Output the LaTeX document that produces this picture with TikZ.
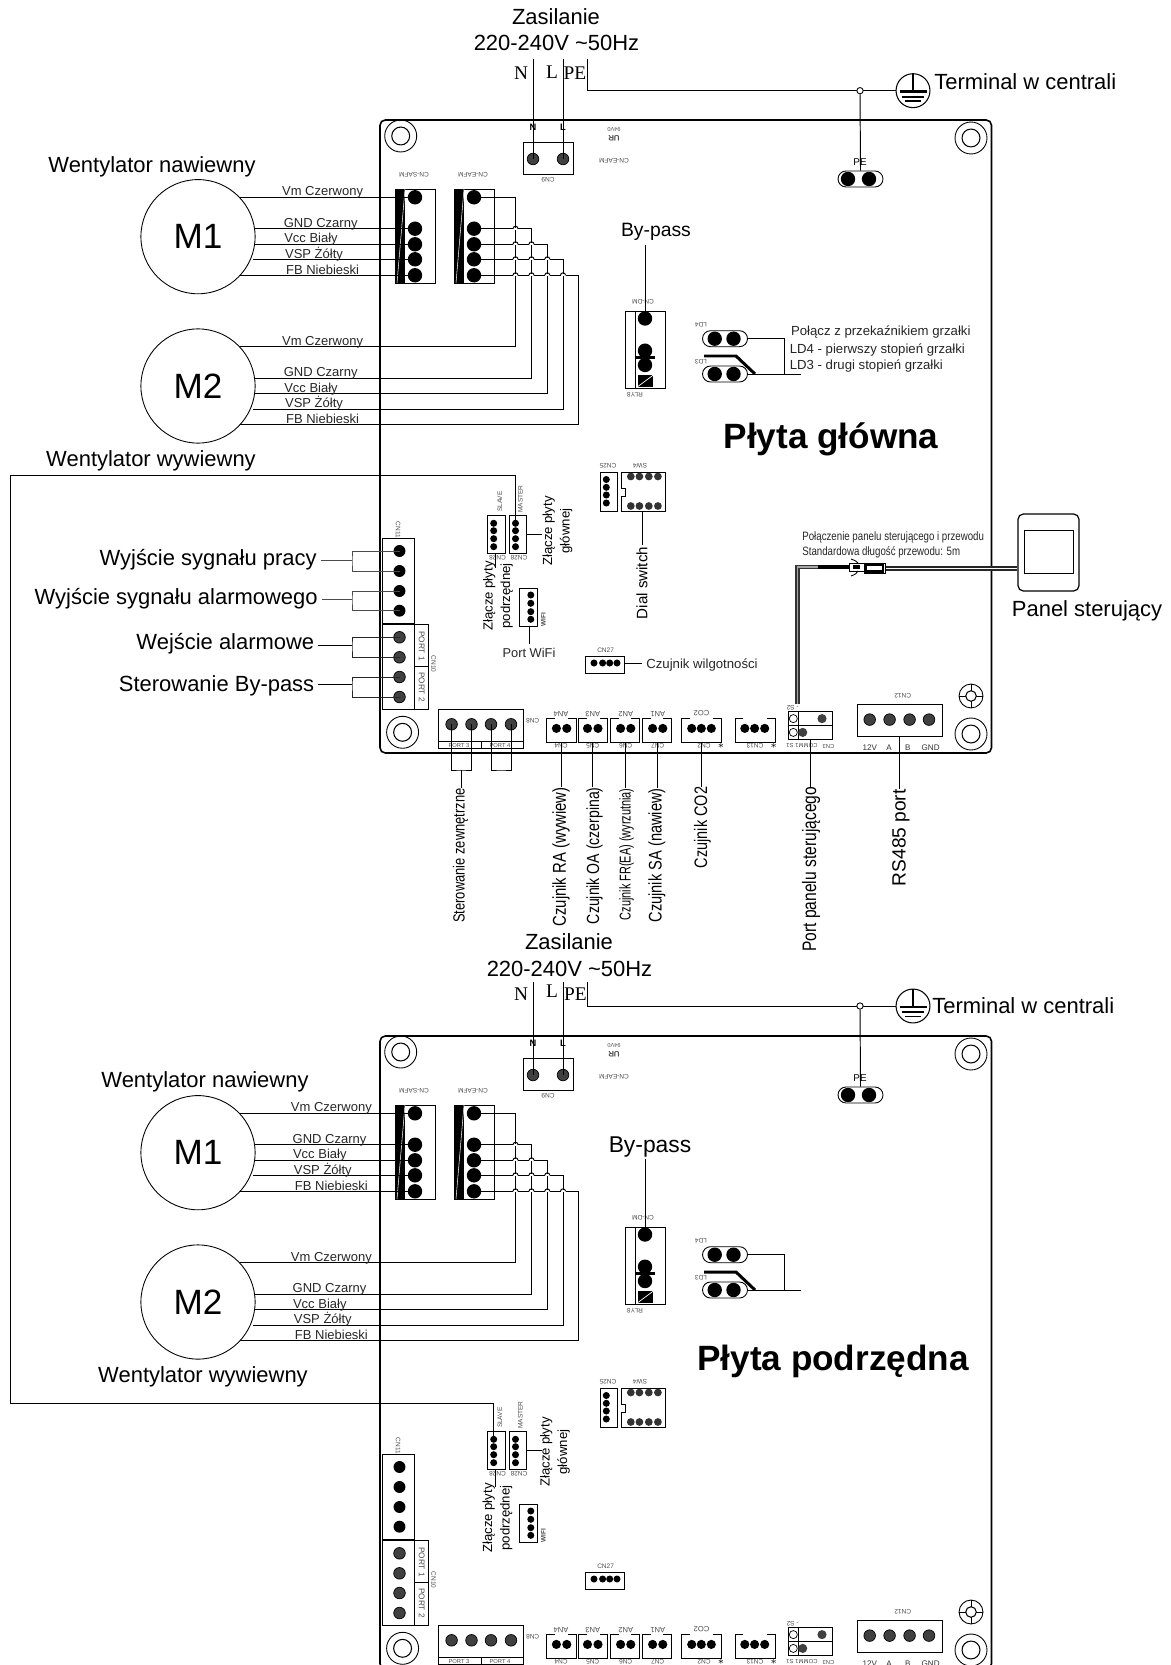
\documentclass[tikz,border=0pt]{standalone}
\usepackage{fontspec}
\setmainfont{Liberation Sans}
\newfontfamily\serifmark{Liberation Serif}
\newfontfamily\narrowfont[FakeStretch=0.8]{Liberation Sans}
\newfontfamily\narrowerfont[FakeStretch=0.7]{Liberation Sans}
\usetikzlibrary{shapes.misc}
\newcommand{\fsz}[1]{\fontsize{#1}{#1}\selectfont}
\tikzstyle{wire} = [line width=0.55pt]
\tikzstyle{part} = [line width=0.5pt]
\tikzstyle{boardline} = [line width=0.9pt, rounded corners=3pt]
\tikzstyle{pinbig} = [circle, inner sep=0pt, minimum size=8.2pt, fill=black]
\tikzstyle{pinmid} = [circle, inner sep=0pt, minimum size=6.6pt, fill=black!75, draw=black]
\tikzstyle{pinan} = [circle, inner sep=0pt, minimum size=5.2pt, fill=black]
\tikzstyle{pinsm} = [circle, inner sep=0pt, minimum size=4pt, fill=black]
\tikzstyle{lab} = [inner sep=0pt, font=\fsz{12.5}]
\tikzstyle{wirelab} = [inner sep=0pt, font=\fsz{7.4}, text=black!85]
\tikzstyle{note} = [inner sep=0pt, font=\fsz{7.5}, text=black!85]
\tikzstyle{silk} = [inner sep=0pt, font=\fsz{3.7}, text=black!70]
\tikzstyle{silku} = [silk, rotate=180]
\tikzstyle{vlab} = [inner sep=0pt, rotate=90, anchor=east]
\tikzstyle{mains} = [inner sep=0pt, font=\serifmark\fsz{11}]
\tikzstyle{motor} = [circle, draw=black, line width=0.5pt, inner sep=0pt, minimum size=65pt, font=\fsz{20}]
\tikzstyle{stadium} = [rounded rectangle, draw=black, line width=0.5pt, inner sep=0pt, minimum width=25.6pt, minimum height=9.1pt]
\tikzstyle{holeout} = [circle, draw=black, line width=0.5pt, inner sep=0pt, minimum size=18.2pt]
\tikzstyle{holein} = [circle, draw=black, line width=0.6pt, inner sep=0pt, minimum size=10.2pt]
\tikzstyle{earthc} = [circle, draw=black, line width=0.6pt, inner sep=0pt, minimum size=19.3pt]
\tikzstyle{junction} = [circle, draw=black, fill=white, line width=0.5pt, inner sep=0pt, minimum size=3.6pt]

\newcommand{\earth}[3]{
\node (#1) [earthc] at (#2,#3) {};
\draw [line width=0.9pt] (#1.north) -- (#1.center);
\draw [line width=1.5pt] (#2-13.5,#3+1) -- (#2+13.5,#3+1);
\draw [line width=1.2pt] (#2-11,#3+6) -- (#2+11,#3+6);
\draw [line width=1pt] (#2-8,#3+10.5) -- (#2+8,#3+10.5);
}

\newcommand{\pcb}[3]{
\begin{scope}[shift={(0,#2)}]
\draw [boardline] (380,120) rectangle (991.5,753);

\foreach \n/\hx/\hy in {1/400.7/136,2/971/138,3/402.6/732.3,4/971/734} {
  \node (#1h\n) [holeout] at (\hx,\hy) {};
  \node (#1hi\n) [holein] at (\hx,\hy) {};
}
\node (#1hs) [holeout, minimum size=13.6pt] at (971,696) {};
\node (#1hsi) [holein, minimum size=6pt] at (971,696) {};
\draw [part] (#1hs.north) -- ++(0,7) (#1hs.south) -- ++(0,-7) (#1hs.west) -- ++(7,0) (#1hs.east) -- ++(-7,0);

\draw [part] (523,142) rectangle (573,174);
\node (#1cn1) [pinmid] at (533,159) {};
\node (#1cn2) [pinmid] at (563,159) {};
\node (#1cnn) [inner sep=0pt, font=\bfseries\fsz{5.3}] at (533,127) {N};
\node (#1cnl) [inner sep=0pt, font=\bfseries\fsz{5.3}] at (563,127) {L};
\node (#1sa) [silku] at (414,175) {CN-SAFM};
\node (#1ea) [silku] at (473,175) {CN-EAFM};
\node (#1cn9) [silku] at (548,180) {CN9};
\node (#1ulv) [silku, font=\fsz{3.2}] at (614,129) {94V0};
\node (#1ul) [silku, font=\bfseries\fsz{4.5}] at (614,138) {UR};
\node (#1eb) [silku] at (614,161) {CN-EAFM};

\node (#1pe) [stadium] at (860.5,179) {};
\node (#1pe1) [pinbig] at (848,179) {};
\node (#1pe2) [pinbig] at (869,179) {};
\node (#1pel) [inner sep=0pt, font=\fsz{5.6}] at (860,162) {PE};

\node (#1m1) [motor] at (198,236.7) {M1};
\node (#1m2) [motor] at (198,386) {M2};

\draw [part] (395,189) rectangle (435,283);
\fill (395,189) rectangle (405,283);
\draw [white, line width=0.3pt] (405,189) -- (397,283);
\draw [part] (454,189) rectangle (494,283);
\fill (454,189) rectangle (464,283);
\draw [white, line width=0.3pt] (464,189) -- (456,283);

\foreach \n/\ya/\xm in {1/197.3/240,2/228.7/255,3/244.3/255,4/259.3/253,5/275.3/240} {
  \node (#1s\n) [pinbig] at (415,\ya) {};
  \node (#1e\n) [pinbig] at (474,\ya) {};
  \coordinate (#1ma\n) at (\xm,\ya);
  \draw [wire] (#1ma\n) -- (#1s\n.center);
}
\foreach \n/\yb/\xm/\xbus in {1/346.7/240/515.5,2/378/255/531.5,3/393.5/255/547.3,4/409/253/563,5/424.7/240/578.6} {
  \coordinate (#1mb\n) at (\xm,\yb);
  \coordinate (#1bus\n) at (\xbus,\yb);
  \draw [wire] (#1e\n.center) -| (#1bus\n) -- (#1mb\n);
}
\foreach \xh/\yh in {515.5/228.7,515.5/244.3,531.5/244.3,515.5/259.3,531.5/259.3,547.3/259.3,515.5/275.3,531.5/275.3,547.3/275.3,563/275.3} {
  \draw [white, line width=1pt] (\xh-2.5,\yh) -- (\xh+2.5,\yh);
  \draw [wire] (\xh-2.5,\yh) arc (180:360:2.5);
}
\foreach \n/\lx/\ly/\txt in {1/322.6/192.5/Vm Czerwony,2/320.7/224/GND Czarny,3/311/239.5/Vcc Biały,4/314/254.5/VSP Żółty,5/322.6/270/FB Niebieski} {
  \node (#1ta\n) [wirelab] at (\lx+#3,\ly) {\txt};
}
\foreach \n/\lx/\ly/\txt in {1/322.6/342/Vm Czerwony,2/320.7/373/GND Czarny,3/311/389/Vcc Biały,4/314/403.5/VSP Żółty,5/322.6/419.3/FB Niebieski} {
  \node (#1tb\n) [wirelab] at (\lx+#3,\ly) {\txt};
}

\draw [part] (625.5,311) rectangle (665.4,388);
\draw [part] (635,311) -- (635,388);
\node (#1dm1) [pinbig] at (645,318.5) {};
\node (#1dm2) [pinbig] at (645,350.7) {};
\node (#1dm3) [pinbig] at (645,365) {};
\draw [line width=1.6pt] (636,357.5) -- (655,357.5);
\fill (637.6,375) rectangle (653.4,386.7);
\draw [white, line width=0.4pt] (637.6,386.7) -- (653.4,375);
\node (#1dml) [silku] at (643,302) {CN-DM};
\node (#1rly) [silku] at (635,395) {RLY8};

\node (#1ld4) [stadium] at (725,338.7) {};
\node (#1ld3) [stadium] at (725,374) {};
\foreach \xp in {714.7,733.5} {
  \node [pinbig] at (\xp,338.7) {};
  \node [pinbig] at (\xp,374) {};
}
\draw [line width=1.7pt] (704,356) -- (736,356) -- (755,374);
\coordinate (#1ldbus) at (784,374);
\coordinate (#1ldend) at (801,374);
\draw [wire] (#1ld4.east) -| (#1ldbus);
\draw [wire] (#1ld3.east) -- (#1ldend);
\node (#1ldt4) [silku] at (701,325) {LD4};
\node (#1ldt3) [silku] at (701,362) {LD3};

\draw [part] (600,472) rectangle (617.6,511);
\foreach \yp in {479.5,487.3,495,503} { \node [pinsm] at (606.3,\yp) {}; }
\draw [part] (621.4,472) -- (665.8,472) -- (665.8,511) -- (621.4,511) -- (621.4,496) -- (625.5,496) -- (625.5,488) -- (621.4,488) -- cycle;
\foreach \xp in {630.8,639.4,648.8,657.9} {
  \node [pinsm, minimum size=4.4pt, fill=black!80] at (\xp,476.5) {};
  \node [pinsm, minimum size=4.4pt, fill=black!80] at (\xp,506) {};
}
\node (#1c25) [silku] at (608,466) {CN25};
\node (#1sw4) [silku] at (640,466) {SW4};

\draw [part] (487,515) rectangle (505,553.3);
\draw [part] (509,515) rectangle (526.6,553.3);
\foreach \n/\yp in {1/523.3,2/530.7,3/538.7,4/546.7} {
  \node (#1sl\n) [pinsm] at (493.7,\yp) {};
  \node (#1ms\n) [pinsm] at (515.5,\yp) {};
}
\node (#1slt) [silk, rotate=90] at (499.8,501.7) {SLAVE};
\node (#1mst) [silk, rotate=90] at (520.5,499) {MASTER};
\node (#1c28a) [silku] at (497.5,558) {CN28};
\node (#1c28b) [silku] at (519,558) {CN28};

\draw [part] (519.7,588) rectangle (537.7,626.7);
\foreach \yp in {595,603.3,611.7,619.3} { \node [pinsm] at (530.8,\yp) {}; }
\node (#1wf) [silk, rotate=90, font=\bfseries\fsz{3.7}] at (543.4,620) {WIFI};

\draw [part] (382.7,538.3) rectangle (414.5,623);
\draw [part] (382.7,624.3) rectangle (414.5,709.3);
\draw [part] (414.5,624.3) rectangle (428.6,709.3);
\draw [part] (414.5,666.7) -- (428.6,666.7);
\foreach \n/\yp in {1/551,2/571,3/591,4/610.7} { \node (#1k\n) [pinbig, minimum size=6.8pt] at (399.5,\yp) {}; }
\foreach \n/\yp in {5/637.3,6/657.3,7/677,8/697} { \node (#1k\n) [pinmid] at (399.5,\yp) {}; }
\node (#1p1) [silk, rotate=-90, font=\fsz{4.7}] at (421.7,646) {PORT 1};
\node (#1p2) [silk, rotate=-90, font=\fsz{4.7}] at (421.7,687) {PORT 2};
\node (#1c10) [silk, rotate=-90] at (433.6,664) {CN10};
\node (#1c11) [silk, rotate=-90] at (398,530) {CN11};

\draw [part] (438.6,709.3) rectangle (523.5,741.7);
\draw [part] (438.6,741.7) rectangle (523.5,748.3);
\draw [part] (481.4,741.7) -- (481.4,748.3);
\foreach \n/\xp in {1/451.6,2/471.5,3/491,4/511} { \node (#1q\n) [pinmid] at (\xp,724.3) {}; }
\node (#1p3) [silk, font=\fsz{3.3}] at (459,745) {PORT 3};
\node (#1p4) [silk, font=\fsz{3.3}] at (500,745) {PORT 4};
\node (#1c8) [silku] at (532.7,720.7) {CN8};

\foreach \bx/\by in {546.5/576,578.6/607.5,610.5/639.4,642.5/671.4,681.6/721,735.4/775} {
  \draw [part] (\bx+8,718) -- (\bx,718) -- (\bx,742) -- (\by,742) -- (\by,718) -- (\by-8,718);
}
\foreach \xp in {556.4,566.8,587.5,598,620.6,630.8,652.6,662.8} { \node [pinan] at (\xp,728.4) {}; }
\foreach \xp in {691.7,701.3,711.3,744.8,754.6,764.7} { \node [pinan] at (\xp,728.4) {}; }
\foreach \lx/\txt in {561/AN4,592.7/AN3,625.7/AN2,657.7/AN1} { \node [silku, font=\fsz{4.3}] at (\lx,714) {\txt}; }
\foreach \lx/\txt in {561/CN4,592.7/CN5,625.7/CN6,657.7/CN7,704/CN2,755/CN13} { \node [silku] at (\lx,746) {\txt}; }
\node (#1co) [silku, font=\fsz{4.3}] at (701.5,713) {CO2};
\node (#1st1) [inner sep=0pt, font=\fsz{6.5}] at (721,746) {$\ast$};
\node (#1st2) [inner sep=0pt, font=\fsz{6.5}] at (773.7,746) {$\ast$};

\draw [part] (788,711.5) rectangle (832,739);
\draw [part] (788,725.7) -- (832,725.7);
\draw [part] (798,711.5) -- (798,739);
\node (#1cm1) [circle, draw=black, line width=0.4pt, inner sep=0pt, minimum size=4.6pt] at (793.3,718.6) {};
\node (#1cm2) [circle, draw=black, line width=0.4pt, inner sep=0pt, minimum size=4.6pt] at (793.3,732.4) {};
\node (#1cm3) [pinan, fill=black!75] at (822,718.6) {};
\node (#1cm4) [pinan, fill=black!75] at (802.7,732.4) {};
\node (#1cmt) [silku, font=\fsz{3.4}] at (802,746) {COMM1 S1};
\node (#1c3) [silku, font=\fsz{3.3}] at (828.5,746) {CN3};
\node (#1s2) [silku] at (792.6,708) {- S2};

\draw [part] (585,656.4) rectangle (624.4,673);
\foreach \xp in {594,602.6,609.7,617} { \node [pinsm] at (\xp,663) {}; }
\node (#1c27) [silk] at (605.6,650) {CN27};

\draw [part] (857.3,704.4) rectangle (942.3,736.8);
\foreach \xp in {869.7,889.6,909.6,929} { \node [pinmid] at (\xp,719.6) {}; }
\node (#1c12) [silku] at (902.8,696) {CN12};
\foreach \lx/\txt in {869.7/12V,889/A,907.7/B,930.6/GND} { \node [inner sep=0pt, font=\fsz{4.6}, text=black!80] at (\lx,747.6) {\txt}; }

\coordinate (#1mbx) at (526.6,534.3);
\coordinate (#1mby) at (541.5,534.3);
\draw [wire] (#1mbx) -- (#1mby);
\end{scope}
}

\begin{document}
\begin{tikzpicture}[x=0.02cm,y=-0.02cm]
\useasboundingbox (0,0) rectangle (1170,1665);
\clip (0,0) rectangle (1170,1665);

\pcb{a}{0}{0}
\pcb{b}{916}{8.8}

\node (azas1) [lab] at (556,17) {Zasilanie};
\node (azas2) [lab] at (556.5,43) {220-240V \textasciitilde 50Hz};
\node (aln) [mains] at (521,73) {N};
\node (all) [mains] at (552,72) {L};
\node (alpe) [mains] at (575,73) {PE};
\coordinate (an0) at (533,59);
\coordinate (al0) at (563,59);
\coordinate (ape0) at (587,59);
\draw [wire] (an0) -- (acn1.center);
\draw [wire] (al0) -- (acn2.center);
\earth{aearth}{913}{90.7}
\draw [wire] (ape0) |- (aearth.west);
\node (ajct) [junction] at (860,90.7) {};
\draw [wire] (ajct) -- (ape.north);
\node (aterm) [lab, anchor=west] at (934,82) {Terminal w centrali};

\node (awn) [lab] at (152,166.5) {Wentylator nawiewny};
\node (aww) [lab] at (151,461) {Wentylator wywiewny};

\node (abyp) [lab, font=\fsz{11}] at (656,231.5) {By-pass};
\coordinate (abyp0) at (645,245);
\draw [wire] (abyp0) -- (adm1.center);
\node (ald1) [note, anchor=west] at (790.7,332) {Połącz z przekaźnikiem grzałki};
\node (ald2) [note, anchor=west] at (789.5,350) {LD4 - pierwszy stopień grzałki};
\node (ald3) [note, anchor=west] at (789.5,366) {LD3 - drugi stopień grzałki};
\node (aboard) [inner sep=0pt, font=\bfseries\fsz{20}] at (831,439) {Płyta główna};

\coordinate (along1) at (10,475);
\coordinate (along2) at (10,1403);
\draw [wire] (ams1.center) |- (along1) -- (along2) -| (bsl1.center);

\node (asz1) [vlab, anchor=center, align=center, font=\fontsize{7.5}{10}\selectfont] at (557.5,531) {Złącze płyty\\głównej};
\node (asz2) [vlab, anchor=center, align=center, font=\fontsize{7.5}{10}\selectfont] at (498,596) {Złącze płyty\\podrzędnej};
\coordinate (asl0) at (495.6,553.3);
\coordinate (asl1) at (495.6,568);
\draw [wire] (asl0) -- (asl1);

\coordinate (awf0) at (529,626.7);
\coordinate (awf1) at (529,644);
\draw [wire] (awf0) -- (awf1);
\node (awft) [note, font=\fsz{7.3}] at (529,652.5) {Port WiFi};

\coordinate (adl0) at (642.5,511);
\coordinate (adl1) at (642.5,545);
\draw [wire] (adl0) -- (adl1);
\node (adial) [vlab, font=\fsz{8.6}] at (642,546.5) {Dial switch};

\coordinate (awl0) at (624.4,663);
\node (awil) [note, anchor=west] at (646,665) {Czujnik wilgotności};
\draw [wire] (awl0) -- ([xshift=-2.2pt]awil.west |- awl0);

\coordinate (abr1) at (352,560.7);
\coordinate (abr2) at (352,599);
\coordinate (abr3) at (352,645.7);
\coordinate (abr4) at (352,684.3);
\node (at1) [lab, anchor=east] at (317,560) {Wyjście sygnału pracy};
\node (at2) [lab, anchor=east] at (318,599) {Wyjście sygnału alarmowego};
\node (at3) [lab, anchor=east] at (314.6,644) {Wejście alarmowe};
\node (at4) [lab, anchor=east] at (314.6,686) {Sterowanie By-pass};
\draw [wire, black!70] (ak1.center) -| (abr1) |- (ak2.center);
\draw [wire, black!70] (ak3.center) -| (abr2) |- (ak4.center);
\draw [wire, black!85] (ak5.center) -| (abr3) |- (ak6.center);
\draw [wire, black!85] (ak7.center) -| (abr4) |- (ak8.center);
\draw [wire, black!70] ([xshift=2pt]at1.east |- abr1) -- (abr1);
\draw [wire, black!70] ([xshift=2pt]at2.east |- abr2) -- (abr2);
\draw [wire] ([xshift=2pt]at3.east |- abr3) -- (abr3);
\draw [wire] ([xshift=2pt]at4.east |- abr4) -- (abr4);

\coordinate (aext1) at (461,770);
\coordinate (aext2) at (501,770);
\draw [wire] (aq1.center) |- (aext1) -| (aq2.center);
\draw [wire] (aq3.center) |- (aext2) -| (aq4.center);
\node (aext) [vlab, font=\narrowfont\fsz{9.2}] at (460.5,788) {Sterowanie zewnętrzne};
\draw [wire] (aext1) -- (aext1 |- aext.east);

\node (asa4) [vlab, font=\narrowfont\fsz{10.6}] at (561,787) {Czujnik RA (wywiew)};
\node (asa3) [vlab, font=\narrowfont\fsz{10}] at (594.5,787) {Czujnik OA (czerpina)};
\node (asa2) [vlab, font=\narrowerfont\fsz{8.9}] at (626.5,788) {Czujnik FR(EA) (wyrzutnia)};
\node (asa1) [vlab, font=\narrowfont\fsz{10.4}] at (657,788) {Czujnik SA (nawiew)};
\node (aco2) [vlab, font=\narrowfont\fsz{10.3}] at (702.5,786.5) {Czujnik CO2};
\node (aport) [vlab, font=\narrowfont\fsz{11.1}] at (811,786.5) {Port panelu sterującego};
\node (arsp) [vlab, font=\fsz{10.9}] at (901,789) {RS485 port};
\coordinate (asb4) at (561,742);
\coordinate (asb3) at (592.4,742);
\coordinate (asb2) at (625,742);
\coordinate (asb1) at (657,742);
\coordinate (acob) at (701,742);
\coordinate (apob) at (810,739);
\coordinate (arsb) at (899.4,736.8);
\draw [wire] (asb4) -- (asb4 |- asa4.east);
\draw [wire] (asb3) -- (asb3 |- asa3.east);
\draw [wire] (asb2) -- (asb2 |- asa2.east);
\draw [wire] (asb1) -- (asb1 |- asa1.east);
\draw [wire] (acob) -- (acob |- aco2.east);
\draw [wire] (apob) -- (apob |- aport.east);
\draw [wire] (arsb) -- (arsb |- arsp.east);

\node (apan) [draw=black, line width=0.7pt, rounded corners=3pt, inner sep=0pt, minimum width=34.7pt, minimum height=43.8pt] at (1048.5,552.5) {};
\node (apan2) [draw=black, line width=0.6pt, inner sep=0pt, minimum width=28.2pt, minimum height=24.2pt] at (1048.8,552.2) {};
\node (apant) [lab] at (1087,610.5) {Panel sterujący};
\node (acon1) [note, anchor=west, font=\narrowfont\fsz{6.9}] at (802,537.5) {Połączenie panelu sterującego i przewodu};
\node (acon2) [note, anchor=west, font=\narrowfont\fsz{6.9}] at (802,552.5) {Standardowa długość przewodu: 5m};

\coordinate (acab0) at (797.5,704);
\coordinate (acab1) at (797.5,566.8);
\coordinate (acab2) at (849,566.8);
\coordinate (acab3) at (885,568.5);
\draw [line width=2.6pt, black!80] (acab0) -- (acab1) -- (acab2);
\draw [line width=1pt, black!35] (acab0) -- (acab1) -- (acab2);
\draw [line width=2.6pt] (818,566.8) -- (acab2);
\draw [line width=2.6pt, black!85] (acab3) -- (acab3 -| apan.west);
\draw [line width=0.8pt, white] (acab3) -- (acab3 -| apan.west);
\draw [part, fill=white] (849,563.5) rectangle (864,571);
\fill (853,565) rectangle (860,569);
\draw [part, fill=white] (864,563.4) rectangle (885,573.5);
\draw [line width=1.2pt] (866,565.4) rectangle (883,571.5);
\draw [part] (851,559) .. controls (856,561) and (856,561) .. (858,563);
\draw [part] (851,576) .. controls (856,574) and (856,574) .. (858,571);

\node (bzas1) [lab] at (569,942) {Zasilanie};
\node (bzas2) [lab] at (569.5,969) {220-240V \textasciitilde 50Hz};
\node (bln) [mains] at (521,994) {N};
\node (bll) [mains] at (552,991.6) {L};
\node (blpe) [mains] at (575.5,994) {PE};
\coordinate (bn0) at (533,982);
\coordinate (bl0) at (563,982);
\coordinate (bpe0) at (587,982);
\draw [wire] (bn0) -- (bcn1.center);
\draw [wire] (bl0) -- (bcn2.center);
\earth{bearth}{913}{1006}
\draw [wire] (bpe0) |- (bearth.west);
\node (bjct) [junction] at (860,1006) {};
\draw [wire] (bjct) -- (bpe.north);
\node (bterm) [lab, anchor=west] at (932,1006) {Terminal w centrali};

\node (bwn) [lab] at (205,1082) {Wentylator nawiewny};
\node (bww) [lab] at (203,1377) {Wentylator wywiewny};

\node (bbyp) [lab, font=\fsz{13}] at (650,1147.5) {By-pass};
\coordinate (bbyp0) at (645,1159);
\draw [wire] (bbyp0) -- (bdm1.center);
\node (bboard) [inner sep=0pt, font=\bfseries\fsz{20}] at (833,1361) {Płyta podrzędna};

\node (bsz1) [vlab, anchor=center, align=center, font=\fontsize{7.5}{10}\selectfont] at (555,1452) {Złącze płyty\\głównej};
\node (bsz2) [vlab, anchor=center, align=center, font=\fontsize{7.5}{10}\selectfont] at (497.5,1518) {Złącze płyty\\podrzędnej};
\coordinate (bsl0) at (495.7,1469.3);
\coordinate (bsl9) at (495.7,1487);
\draw [wire] (bsl0) -- (bsl9);
\end{tikzpicture}
\end{document}
